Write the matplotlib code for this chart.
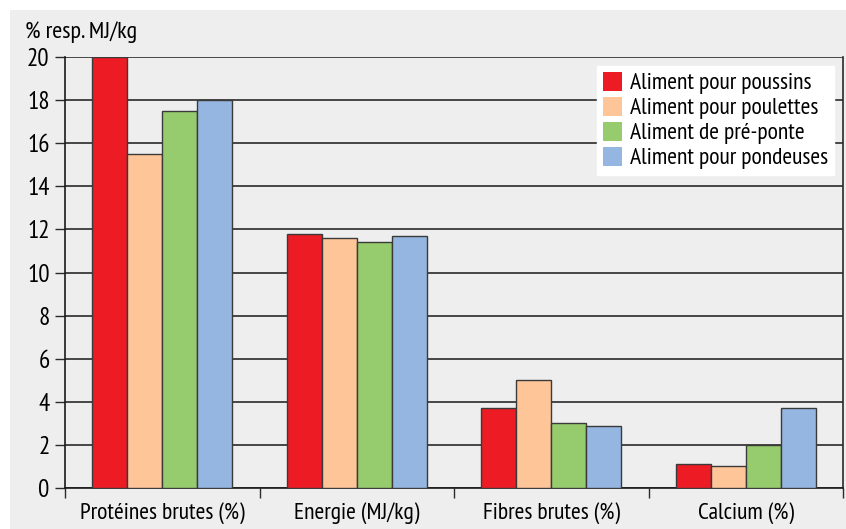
import numpy as np
import matplotlib.pyplot as plt
from matplotlib.patches import Rectangle

categories = ["Protéines brutes (%)", "Energie (MJ/kg)", "Fibres brutes (%)", "Calcium (%)"]
series = ["Aliment pour poussins", "Aliment pour poulettes",
          "Aliment de pré-ponte", "Aliment pour pondeuses"]
poussins = [20.0, 11.8, 3.7, 1.1]
poulettes = [15.5, 11.6, 5.0, 1.0]
preponte = [17.5, 11.4, 3.0, 2.0]
pondeuses = [18.0, 11.7, 2.9, 3.7]
colors = ["#ed1c24", "#fec599", "#97cc6e", "#95b6e0"]

plt.rcParams["font.family"] = ["PT Sans Narrow", "DejaVu Sans"]
plt.rcParams["font.weight"] = "normal"

fig = plt.figure(figsize=(8.46, 5.29), dpi=100)
fig.patch.set_facecolor("white")
# grey panel behind everything
fig.patches.append(Rectangle((10 / 846, 0), 1, 1 - 10 / 529, transform=fig.transFigure,
                             facecolor="#eeeeee", edgecolor="none", zorder=-10))

ax = fig.add_axes([65 / 846, 1 - 488 / 529, (843 - 65) / 846, (488 - 57) / 529])
ax.set_facecolor("#eeeeee")

x = np.arange(len(categories))
w = 0.18
for i, (vals, name) in enumerate(zip([poussins, poulettes, preponte, pondeuses], series)):
    ax.bar(x + (i - 1.5) * w, vals, w, color=colors[i], edgecolor="#3a3a3a",
           linewidth=1.0, label=name, zorder=3)

ax.set_xlim(-0.5, 3.5)
ax.set_ylim(0, 20)
ax.set_yticks(range(0, 21, 2))
ax.yaxis.grid(True, color="#2a2a2a", linewidth=1.2, zorder=0)
ax.set_axisbelow(True)

ax.set_xticks(x)
ax.set_xticklabels(categories)
ax.set_xticks(np.arange(-0.5, 4, 1), minor=True)
ax.tick_params(axis="x", which="major", length=0, pad=10, labelsize=17)
ax.tick_params(axis="x", which="minor", length=7, width=1, color="#2a2a2a", direction="out")
ax.tick_params(axis="y", length=7, width=1, color="#2a2a2a", labelsize=18, pad=4)

for s in ["left", "bottom"]:
    ax.spines[s].set_color("#1a1a1a")
    ax.spines[s].set_linewidth(1.2)
ax.spines["right"].set_color("#2a2a2a")
ax.spines["right"].set_linewidth(1.2)
ax.spines["top"].set_visible(False)

fig.text(25 / 846, 1 - 38 / 529, "% resp. MJ/kg", fontsize=17.5, va="baseline", ha="left")

leg = ax.legend(loc="upper right", bbox_to_anchor=(834 / 846, 1 - 66 / 529),
                bbox_transform=fig.transFigure, frameon=True, fancybox=False,
                fontsize=17, handlelength=0.8, handleheight=0.85, handletextpad=0.35,
                labelspacing=0.1, borderpad=0.25, borderaxespad=0)
leg.get_frame().set_facecolor("white")
leg.get_frame().set_edgecolor("white")
leg.get_frame().set_alpha(1)
for h in leg.legend_handles:
    h.set_edgecolor("none")

fig.savefig("out.png", dpi=100, facecolor=fig.get_facecolor())
